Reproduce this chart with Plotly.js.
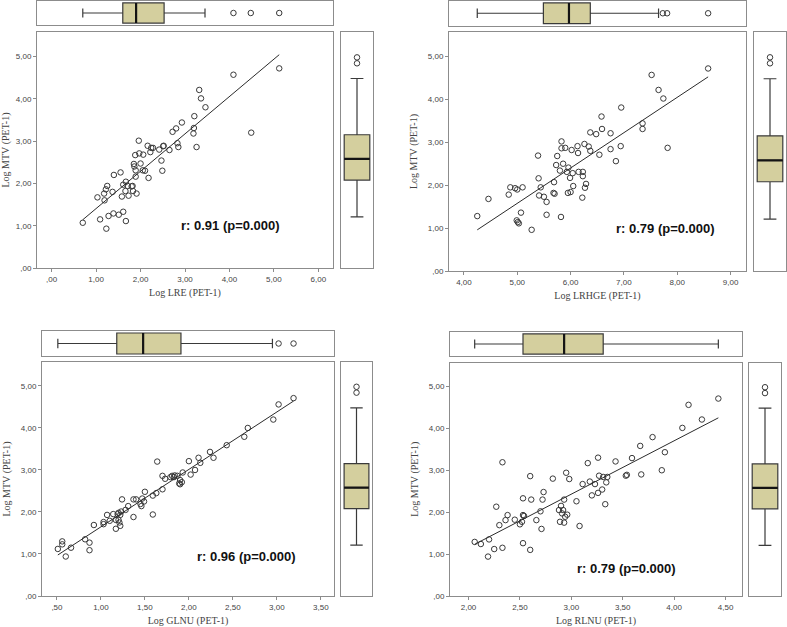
<!DOCTYPE html>
<html><head><meta charset="utf-8">
<script src="https://cdn.plot.ly/plotly-3.0.1.min.js"></script>
<style>html,body{margin:0;padding:0;background:#fff}#chart{width:787px;height:627px}</style>
</head><body><div id="chart"></div>
<script>
// ---------- data ----------
const p1x = [0.70,1.03,1.09,1.18,1.19,1.22,1.25,1.23,1.28,1.37,1.39,1.40,1.51,1.55,1.58,1.61,1.61,1.67,1.66,1.67,1.71,1.73,1.80,1.82,1.83,1.85,1.86,1.88,1.89,1.89,1.91,1.96,1.97,2.00,2.05,2.06,2.10,2.16,2.18,2.22,2.24,2.28,2.42,2.47,2.49,2.51,2.52,2.65,2.72,2.80,2.83,2.85,2.93,3.19,3.20,3.21,3.26,3.32,3.36,3.46,4.09,4.49,5.12];
const p1y = [1.07,1.67,1.15,1.76,1.60,1.86,1.94,0.93,1.23,1.80,1.29,2.20,1.26,2.26,1.69,1.33,1.97,2.04,1.82,1.11,1.94,1.71,1.93,1.94,1.82,2.46,2.40,2.67,2.16,2.31,1.76,3.01,2.71,2.47,2.31,2.68,2.30,2.89,2.13,2.74,2.84,2.84,2.80,2.54,2.30,2.88,2.89,2.79,3.22,3.30,2.95,2.86,3.44,3.18,3.31,3.59,2.86,4.21,4.01,3.80,4.57,3.20,4.72];

const p2x = [4.25,4.46,4.84,4.87,4.96,5.00,5.10,4.99,5.01,5.03,5.07,5.27,5.39,5.40,5.41,5.44,5.50,5.55,5.55,5.69,5.68,5.70,5.73,5.75,5.80,5.82,5.83,5.83,5.86,5.90,5.93,5.95,5.96,5.99,6.00,6.02,6.04,6.05,6.13,6.14,6.15,6.23,6.23,6.22,6.26,6.27,6.29,6.34,6.37,6.37,6.48,6.54,6.58,6.59,6.75,6.75,6.94,6.95,6.85,7.35,7.35,7.52,7.65,7.74,7.82,8.58];
const p2y = [1.28,1.68,1.78,1.95,1.93,1.90,1.95,1.18,1.14,1.11,1.36,0.96,2.69,2.16,1.76,1.95,1.73,1.61,1.31,2.07,1.82,1.80,2.47,2.68,2.34,1.26,3.02,2.86,2.50,2.87,2.31,1.82,2.41,2.17,1.84,2.82,2.28,1.98,2.91,2.75,2.31,2.31,2.21,1.71,2.96,1.94,2.03,2.90,2.80,3.23,3.19,2.71,3.60,3.31,3.21,2.84,2.91,3.81,2.56,3.44,3.31,4.57,4.22,4.02,2.87,4.72];

const p3x = [0.51,0.56,0.56,0.60,0.66,0.82,0.87,0.87,0.92,1.03,1.03,1.07,1.10,1.14,1.17,1.17,1.19,1.20,1.20,1.21,1.22,1.22,1.23,1.24,1.28,1.31,1.37,1.37,1.40,1.45,1.46,1.47,1.49,1.50,1.59,1.59,1.63,1.64,1.70,1.70,1.73,1.79,1.81,1.83,1.84,1.87,1.89,1.90,1.90,1.92,1.93,2.00,2.02,2.07,2.11,2.13,2.24,2.28,2.43,2.63,2.67,2.96,3.02,3.19];
const p3y = [1.12,1.30,1.23,0.94,1.15,1.35,1.27,1.09,1.69,1.71,1.76,1.93,1.79,1.95,1.81,1.60,1.95,1.81,1.98,1.75,1.93,1.67,2.01,2.30,2.05,2.14,1.88,2.30,2.30,2.19,2.14,2.32,2.25,2.48,1.94,2.39,2.45,3.20,2.54,2.86,2.79,2.83,2.86,2.83,2.87,2.86,2.68,2.76,2.66,2.71,2.94,3.21,2.89,3.00,3.29,3.17,3.43,3.29,3.59,3.79,4.00,4.20,4.56,4.71];

const p4x = [2.06,2.12,2.19,2.20,2.25,2.27,2.30,2.33,2.33,2.36,2.38,2.45,2.50,2.52,2.53,2.53,2.53,2.54,2.60,2.60,2.61,2.66,2.70,2.71,2.72,2.73,2.82,2.88,2.89,2.90,2.91,2.92,2.93,2.93,2.94,2.95,2.96,2.98,3.05,3.08,3.11,3.16,3.18,3.20,3.23,3.26,3.26,3.27,3.30,3.31,3.33,3.34,3.35,3.43,3.53,3.54,3.59,3.67,3.68,3.79,3.88,3.91,4.08,4.14,4.27,4.43];
const p4y = [1.29,1.24,0.94,1.35,1.12,2.13,1.69,1.15,3.19,1.81,1.93,1.82,1.71,1.77,2.33,1.26,1.93,1.91,2.86,1.10,2.30,1.81,2.02,1.60,2.30,2.48,2.80,2.05,1.77,2.15,1.97,2.05,2.30,1.75,1.89,2.94,1.94,2.79,2.26,1.67,2.67,3.17,2.73,2.40,2.67,3.30,2.46,2.87,2.54,2.84,2.19,2.71,2.84,3.21,2.87,2.89,3.29,3.58,2.90,3.79,3.00,3.43,4.01,4.56,4.21,4.71];

// box summaries: [lower whisker, Q1, median, Q3, upper whisker]
const mtvBox = [1.21, 2.08, 2.58, 3.15, 4.48];
const mtvOut = [4.84, 4.98];
const p1Box = [0.70, 1.60, 1.90, 2.53, 3.45];
const p1Out = [4.09, 4.48, 5.12];
const p2Box = [4.25, 5.49, 5.97, 6.37, 7.65];
const p2Out = [7.73, 7.81, 8.58];
const p3Box = [0.51, 1.18, 1.48, 1.91, 2.95];
const p3Out = [3.02, 3.19];
const p4Box = [2.06, 2.53, 2.93, 3.31, 4.43];
const p4Out = [];

const xTitles = ['Log LRE (PET-1)', 'Log LRHGE (PET-1)', 'Log GLNU (PET-1)', 'Log RLNU (PET-1)'];
const yTitle = 'Log MTV (PET-1)';
const rTexts = ['r: 0.91 (p=0.000)', 'r: 0.79 (p=0.000)', 'r: 0.96 (p=0.000)', 'r: 0.79 (p=0.000)'];

const yTickVals = [0, 1, 2, 3, 4, 5];
const yTickText = [',00', '1,00', '2,00', '3,00', '4,00', '5,00'];
const p1TickVals = [0, 1, 2, 3, 4, 5, 6];
const p1TickText = [',00', '1,00', '2,00', '3,00', '4,00', '5,00', '6,00'];
const p2TickVals = [4, 5, 6, 7, 8, 9];
const p2TickText = ['4,00', '5,00', '6,00', '7,00', '8,00', '9,00'];
const p3TickVals = [0.5, 1, 1.5, 2, 2.5, 3, 3.5];
const p3TickText = [',50', '1,00', '1,50', '2,00', '2,50', '3,00', '3,50'];
const p4TickVals = [2, 2.5, 3, 3.5, 4, 4.5];
const p4TickText = ['2,00', '2,50', '3,00', '3,50', '4,00', '4,50'];

// ---------- layout geometry (pixels) ----------
const W = 787, H = 627;
const panels = [
  {x:p1x, y:p1y, box:p1Box, out:p1Out, tv:p1TickVals, tt:p1TickText,
   main:[37,333,32,268], top:[1,25], right:[341,373], xr:[-0.33,6.33], yr:[0,5.58], ann:[4.02,1.0]},
  {x:p2x, y:p2y, box:p2Box, out:p2Out, tv:p2TickVals, tt:p2TickText,
   main:[449,746,32,271], top:[1,25.5], right:[754,786], xr:[3.72,9.29], yr:[0,5.57], ann:[7.78,0.99]},
  {x:p3x, y:p3y, box:p3Box, out:p3Out, tv:p3TickVals, tt:p3TickText,
   main:[42,334,362,596], top:[331,356], right:[341,372], xr:[0.33,3.65], yr:[0,5.57], ann:[2.66,0.95]},
  {x:p4x, y:p4y, box:p4Box, out:p4Out, tv:p4TickVals, tt:p4TickText,
   main:[450,742,362.5,596], top:[332,356], right:[749,781], xr:[1.82,4.66], yr:[0,5.57], ann:[3.54,0.66]}
];

const fx = p => p / W;
const fy = p => 1 - p / H;
const boxFill = '#D4CF9E';
const lineCol = '#2b2b2b';
const frameCol = '#8c8c8c';
const tickFont = {family:'Liberation Sans, Arial, sans-serif', size:8, color:'#444'};
const titleFont = {family:'Liberation Serif, Times New Roman, serif', size:10, color:'#444'};

function fit(xs, ys) {
  const n = xs.length;
  const mx = xs.reduce((a,b)=>a+b,0)/n, my = ys.reduce((a,b)=>a+b,0)/n;
  let sxy=0, sxx=0;
  for (let i=0;i<n;i++){ sxy += (xs[i]-mx)*(ys[i]-my); sxx += (xs[i]-mx)**2; }
  const b = sxy/sxx, a = my - b*mx;
  const x0 = Math.min(...xs), x1 = Math.max(...xs);
  return {x:[x0,x1], y:[a+b*x0, a+b*x1]};
}

const data = [];
const layout = {
  width: W, height: H, margin:{l:0,r:0,t:0,b:0},
  paper_bgcolor:'#fff', plot_bgcolor:'#fff', showlegend:false,
  annotations: []
};

function boxTraces(stats, horiz, xa, ya, w, ww) {
  const base = {type:'box', xaxis:xa, yaxis:ya, width:w, boxpoints:false, hoverinfo:horiz?'x':'y'};
  const pos = horiz ? {orientation:'h', y:[0]} : {x:[0]};
  const main = Object.assign({}, base, pos, {
    lowerfence:[stats[0]], q1:[stats[1]], median:[stats[2]], q3:[stats[3]], upperfence:[stats[4]],
    whiskerwidth:ww, fillcolor:boxFill, line:{color:'#3a3a3a', width:1.2}});
  // thicker median bar drawn as a collapsed box at the median value
  const med = Object.assign({}, base, pos, {
    lowerfence:[stats[2]], q1:[stats[2]], median:[stats[2]], q3:[stats[2]], upperfence:[stats[2]],
    whiskerwidth:0, fillcolor:'rgba(0,0,0,0)', line:{color:'#141414', width:2.2}});
  return [main, med];
}

panels.forEach((p, i) => {
  const a = 3*i+1, b = 3*i+2, c = 3*i+3;
  const xa = 'x'+a, ya = 'y'+a, xb = 'x'+b, yb = 'y'+b, xc = 'x'+c, yc = 'y'+c;
  const [l, r, t, bt] = p.main;
  const frame = {showline:true, mirror:true, linecolor:frameCol, linewidth:1, zeroline:false, showgrid:false};
  layout['xaxis'+a] = Object.assign({}, frame, {
    domain:[fx(l), fx(r)], anchor:ya, range:p.xr, tickvals:p.tv, ticktext:p.tt,
    ticks:'outside', ticklen:3, tickcolor:frameCol, tickfont:tickFont,
    title:{text:xTitles[i], font:titleFont, standoff:6}
  });
  layout['yaxis'+a] = Object.assign({}, frame, {
    domain:[fy(bt), fy(t)], anchor:xa, range:p.yr, tickvals:yTickVals, ticktext:yTickText,
    ticks:'outside', ticklen:3, tickcolor:frameCol, tickfont:tickFont,
    title:{text:yTitle, font:titleFont, standoff:8}
  });
  layout['xaxis'+b] = Object.assign({}, frame, {domain:[fx(l), fx(r)], anchor:yb, range:p.xr, showticklabels:false, ticks:''});
  layout['yaxis'+b] = Object.assign({}, frame, {domain:[fy(p.top[1]), fy(p.top[0])], anchor:xb, range:[-0.5,0.5], showticklabels:false, ticks:''});
  layout['xaxis'+c] = Object.assign({}, frame, {domain:[fx(p.right[0]), fx(p.right[1])], anchor:yc, range:[-0.5,0.5], showticklabels:false, ticks:''});
  layout['yaxis'+c] = Object.assign({}, frame, {domain:[fy(bt), fy(t)], anchor:xc, range:p.yr, showticklabels:false, ticks:''});

  const mk = {symbol:'circle-open', size:5.5, color:'#3a3a3a', line:{width:1}};
  data.push({type:'scatter', mode:'markers', x:p.x, y:p.y, xaxis:xa, yaxis:ya, marker:mk, hoverinfo:'x+y'});
  const f = fit(p.x, p.y);
  data.push({type:'scatter', mode:'lines', x:f.x, y:f.y, xaxis:xa, yaxis:ya, line:{color:lineCol, width:1}, hoverinfo:'skip'});

  data.push(...boxTraces(p.box, true, xb, yb, 0.84, 0.45));
  if (p.out.length) data.push({type:'scatter', mode:'markers', x:p.out, y:p.out.map(()=>0), xaxis:xb, yaxis:yb, marker:mk});

  data.push(...boxTraces(mtvBox, false, xc, yc, 0.8, 0.5));
  data.push({type:'scatter', mode:'markers', x:mtvOut.map(()=>0), y:mtvOut, xaxis:xc, yaxis:yc, marker:mk});

  layout.annotations.push({xref:xa, yref:ya, x:p.ann[0], y:p.ann[1], text:'<b>'+rTexts[i]+'</b>', showarrow:false,
    font:{family:'Liberation Sans, Arial, sans-serif', size:13, color:'#111'}});
});

Plotly.newPlot('chart', data, layout, {staticPlot:true, displayModeBar:false});
</script>
</body></html>
